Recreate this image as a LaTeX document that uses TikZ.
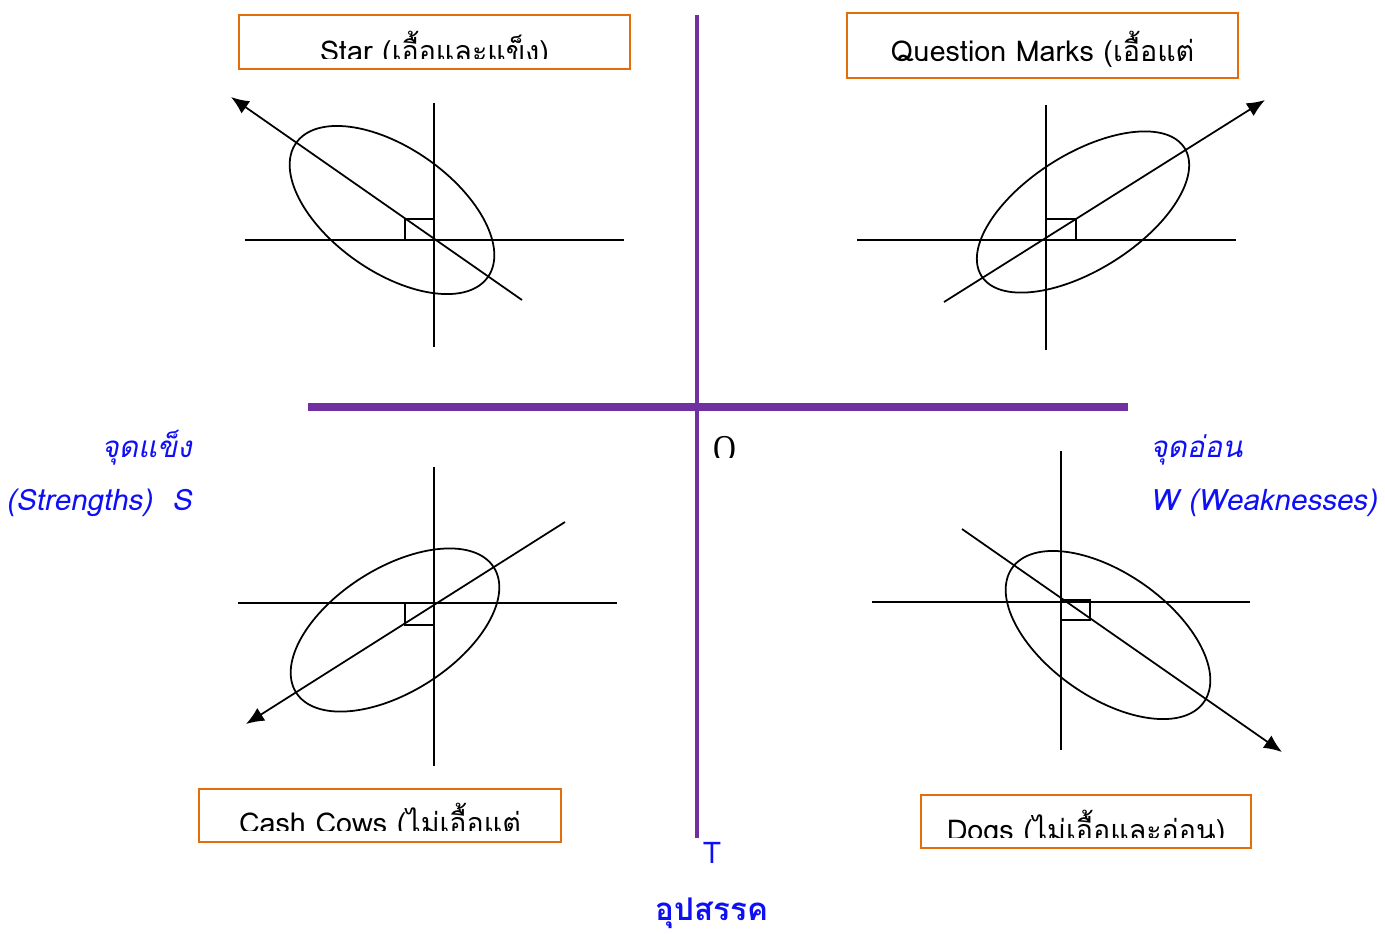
\documentclass[tikz,border=0pt]{standalone}
\usepackage{fontspec}
\newfontfamily\thaifont[Script=Thai]{Loma}
\newfontfamily\thaislant[Script=Thai,FakeSlant=0.2]{Loma}
\newfontfamily\serifO{Liberation Serif}
\usetikzlibrary{positioning, calc, arrows.meta}

\definecolor{boxorange}{RGB}{228,108,10}
\definecolor{axispurple}{RGB}{112,48,160}
\definecolor{labelblue}{RGB}{15,15,245}

\begin{document}
\begin{tikzpicture}[
  x=0.2mm, y=-0.2mm,
  >={Latex[length=3.6mm, width=3mm]},
  axis/.style    = {line width=1pt},
  divider/.style = {axispurple, line width=2.8pt},
  qbox/.style    = {draw=boxorange, line width=1.1pt, rectangle, inner sep=0pt},
  boxtext/.style = {anchor=base, inner sep=0pt, font=\thaifont\fontsize{16.3}{18}\selectfont},
  swlabel/.style = {inner sep=0pt, text=labelblue, font=\thaislant\fontsize{16.8}{19}\selectfont},
]
  \useasboundingbox (0,0) rectangle (1385,933);

  % quadrant dividers
  \draw[divider] (697,15) -- (697,838);
  \draw[divider, line width=4pt] (308,407) -- (1128,407);

  % Star
  \node[qbox, minimum width=78.2mm, minimum height=10.8mm] (star) at (434.5,42) {};
  \begin{scope}
    \clip (239,15) rectangle (630,58);
    \node[boxtext] (starT) at (434.5,61) {Star (เอื้อและแข็ง)};
  \end{scope}
  \draw[axis] (245,240) -- (624,240);
  \draw[axis] (434,103) -- (434,347);
  \draw[axis] (405,219) rectangle (434,240);
  \draw[axis, ->] (522,300) -- (231,97);
  \draw[axis, rotate around={-34.9:(392,210)}] (392,210) ellipse [x radius=117, y radius=62];

  % Question Marks
  \node[qbox, minimum width=78.2mm, minimum height=13mm] (quest) at (1042.5,45.5) {};
  \node[boxtext] (questT) at (1042.5,61) {Question Marks (เอื้อแต่};
  \draw[axis] (857,240) -- (1236,240);
  \draw[axis] (1046,105) -- (1046,350);
  \draw[axis] (1046,219) rectangle (1076,240);
  \draw[axis, ->] (944,302) -- (1265,100);
  \draw[axis, rotate around={32.2:(1083,212)}] (1083,212) ellipse [x radius=120, y radius=58];

  % Cash Cows
  \node[qbox, minimum width=72.4mm, minimum height=10.6mm] (cash) at (380,815.5) {};
  \begin{scope}
    \clip (199,789) rectangle (561,830);
    \node[boxtext] (cashT) at (380,833) {Cash Cows (ไม่เอื้อแต่};
  \end{scope}
  \draw[axis] (238,603) -- (617,603);
  \draw[axis] (434,467) -- (434,766);
  \draw[axis] (405,603) rectangle (434,625);
  \draw[axis, ->] (565,522) -- (246,724);
  \draw[axis, rotate around={32.3:(395,630)}] (395,630) ellipse [x radius=117, y radius=62];

  % Dogs
  \node[qbox, minimum width=66mm, minimum height=10.6mm] (dogs) at (1086,821.5) {};
  \begin{scope}
    \clip (921,795) rectangle (1251,837);
    \node[boxtext] (dogsT) at (1086,840) {Dogs (ไม่เอื้อและอ่อน)};
  \end{scope}
  \draw[axis] (872,602) -- (1250,602);
  \draw[axis] (1061,451) -- (1061,750);
  \draw[axis] (1061,600) rectangle (1090,620);
  \draw[axis, ->] (962,529) -- (1282,752);
  \draw[axis, rotate around={-34.9:(1108,635)}] (1108,635) ellipse [x radius=117, y radius=62];

  % side labels
  \node[swlabel, anchor=base east] (strTH) at (192,457) {จุดแข็ง};
  \node[swlabel, anchor=base east] (strEN) at (192,510) {(Strengths)\ \ S};
  \node[swlabel, anchor=base west] (wkTH)  at (1150,457) {จุดอ่อน};
  \node[swlabel, anchor=base west] (wkEN)  at (1150,510) {W (Weaknesses)};

  % opportunity / threat
  \begin{scope}
    \clip (700,420) rectangle (760,457);
    \node[anchor=base, inner sep=0pt, font=\serifO\fontsize{18}{20}\selectfont, yscale=1.2, transform shape] (opp) at (725,461) {O};
  \end{scope}
  \node[anchor=base, inner sep=0pt, text=labelblue, font=\thaifont\fontsize{17}{19}\selectfont] (thr) at (712,863) {T};
  \node[anchor=base, inner sep=0pt, text=labelblue, font=\thaifont\bfseries\fontsize{17.8}{20}\selectfont] (thrTH) at (712,920) {อุปสรรค};
\end{tikzpicture}
\end{document}
